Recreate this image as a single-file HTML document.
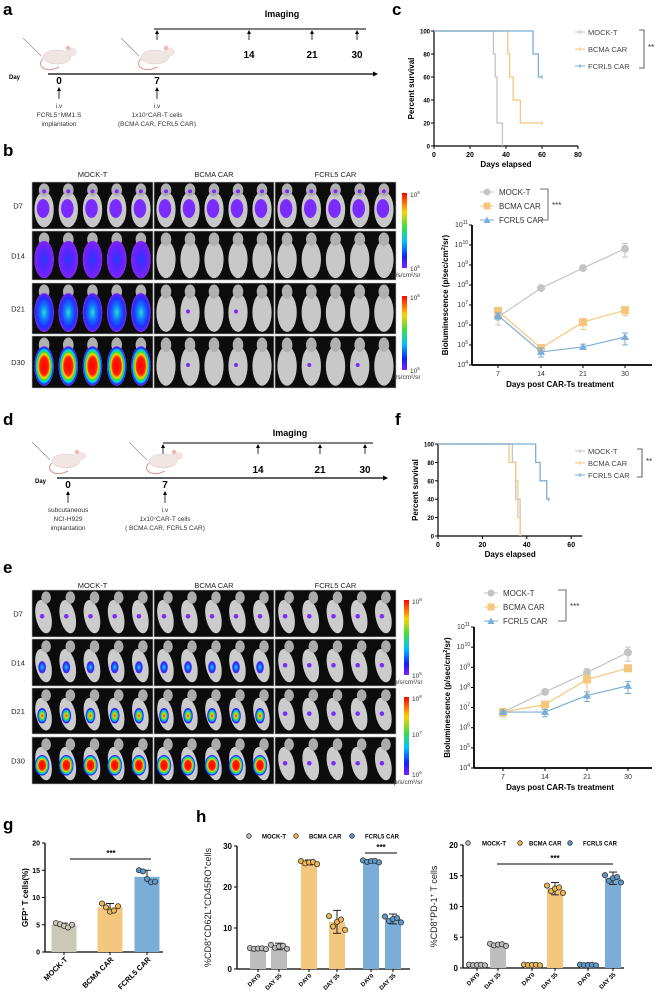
<!DOCTYPE html>
<html><head><meta charset="utf-8"><style>
html,body{margin:0;padding:0;background:#fff;}
svg{display:block;font-family:"Liberation Sans",Arial,sans-serif;}
.lbl{font-weight:bold;font-size:17px;}
</style></head><body>
<svg id="fig" width="660" height="999" viewBox="0 0 660 999" xmlns="http://www.w3.org/2000/svg">
<defs>
<radialGradient id="hot"><stop offset="0" stop-color="#ff0000"/><stop offset="0.45" stop-color="#ff2000"/><stop offset="0.6" stop-color="#ffd000"/><stop offset="0.72" stop-color="#30e030"/><stop offset="0.82" stop-color="#00d0ff"/><stop offset="0.92" stop-color="#1030ff"/><stop offset="1" stop-color="#8020ff"/></radialGradient>
<radialGradient id="cool"><stop offset="0" stop-color="#30e0c0"/><stop offset="0.35" stop-color="#1080ff"/><stop offset="0.75" stop-color="#2030ff"/><stop offset="1" stop-color="#7020ff"/></radialGradient>
<radialGradient id="purpbody"><stop offset="0" stop-color="#2040ff"/><stop offset="0.4" stop-color="#5028ff"/><stop offset="1" stop-color="#8020ff"/></radialGradient>
<radialGradient id="ring"><stop offset="0" stop-color="#ff1000"/><stop offset="0.3" stop-color="#ffd000"/><stop offset="0.5" stop-color="#30e030"/><stop offset="0.7" stop-color="#00c0ff"/><stop offset="0.85" stop-color="#1020ff"/><stop offset="1" stop-color="#7020ff"/></radialGradient>
<linearGradient id="cbar" x1="0" y1="0" x2="0" y2="1"><stop offset="0" stop-color="#ff0000"/><stop offset="0.25" stop-color="#ffd000"/><stop offset="0.45" stop-color="#40e040"/><stop offset="0.65" stop-color="#00c0ff"/><stop offset="0.85" stop-color="#1020ff"/><stop offset="1" stop-color="#8020ff"/></linearGradient>
</defs>
<g id="static">
<text class="lbl" x="3" y="15">a</text>
<text class="lbl" x="392" y="15">c</text>
<text class="lbl" x="3" y="156">b</text>
<text class="lbl" x="3" y="425">d</text>
<text class="lbl" x="395" y="425">f</text>
<text class="lbl" x="3" y="573">e</text>
<text class="lbl" x="3" y="830">g</text>
<text class="lbl" x="196" y="822">h</text>
</g>
<g id="root"></g>
</svg>
<script>
// ---------- chart data ----------
const groups = ["MOCK-T","BCMA CAR","FCRL5 CAR"];
const colors = ["#c4c4c4","#f5c77e","#7aaed8"];
const imgDays = ["7","14","21","30"];
const survC_mock_d = [0,33,34,35,38];  const survC_mock_p = [100,80,60,20,0];
const survC_bcma_d = [0,41,42,44,48,60]; const survC_bcma_p = [100,80,60,40,20,20];
const survC_fcrl_d = [0,55,58,60]; const survC_fcrl_p = [100,80,60,60];
const survF_mock_d = [0,33.5,35,37]; const survF_mock_p = [100,80,40,0];
const survF_bcma_d = [0,32,35,36,37]; const survF_bcma_p = [100,80,60,20,0];
const survF_fcrl_d = [0,44,46,49,50]; const survF_fcrl_p = [100,80,60,40,40];
const bioB_mock = [2.5e6,7e7,7e8,6.5e9]; const bioB_mock_lo=[1e6,6e7,6e8,2.5e9]; const bioB_mock_hi=[4e6,8e7,8e8,1.2e10];
const bioB_bcma = [5e6,7e4,1.4e6,5.5e6]; const bioB_bcma_lo=[3.5e6,4e4,6e5,3e6]; const bioB_bcma_hi=[6e6,1e5,2e6,8e6];
const bioB_fcrl = [3e6,4.5e4,8e4,2.5e5]; const bioB_fcrl_lo=[2e6,2.5e4,6e4,1e5]; const bioB_fcrl_hi=[4e6,7e4,1.1e5,4e5];
const bioE_mock = [6e6,6e7,5.5e8,5.5e9]; const bioE_mock_lo=[3.5e6,5e7,3.5e8,2e9]; const bioE_mock_hi=[8e6,7e7,8.5e8,1e10];
const bioE_bcma = [6e6,1.4e7,2.5e8,9e8]; const bioE_bcma_lo=[5e6,1e7,4e7,6e8]; const bioE_bcma_hi=[7e6,1.8e7,4e8,1.2e9];
const bioE_fcrl = [6e6,6e6,4e7,1.2e8]; const bioE_fcrl_lo=[5e6,3.5e6,2e7,5e7]; const bioE_fcrl_hi=[7e6,8e6,6e7,2e8];
const logTicks = [4,5,6,7,8,9,10,11];
const gfpVals = [5.0,8.2,13.8];
const gfpPts = [[5.3,5.1,4.8,4.5,5.0],[8.9,8.2,7.4,7.6,8.4],[15.0,14.8,13.4,12.8,12.9]];
const gTicks = [0,5,10,15,20];
const hCats = ["DAY0","DAY 35","DAY0","DAY 35","DAY0","DAY 35"];
const hMemVals = [5,5.5,26,11.5,26.3,12.2];
const hMemErr = [0.2,0.8,0.6,2.8,0.4,1.2];
const hTicksL = [0,10,20,30];
const hPdOrder = [0.5,3.8,0.5,12.9,0.5,14.6];
const hPdErr = [0.1,0.3,0.1,1.0,0.1,1.0];
const hTicksR = [0,5,10,15,20];

const NS="http://www.w3.org/2000/svg";
const root=document.getElementById('root');
function mk(tag,attrs,parent,txt){const e=document.createElementNS(NS,tag);for(const k in attrs)e.setAttribute(k,attrs[k]);if(txt!==undefined)e.textContent=txt;(parent||root).appendChild(e);return e;}
function grp(name){const g=mk('g',{});

return g;}

// ---------- timelines ----------
function timeline(name,p,texts0,texts7){
  const g=grp(name);
  let e=mk('text',{x:p.imgX,y:p.imgY,'text-anchor':'middle','font-size':'9','font-weight':'bold'},g,'Imaging');
  
  mk('line',{x1:p.l1,x2:p.l2,y1:p.lineY,y2:p.lineY,stroke:'#000','stroke-width':1},g);
  p.arrows.forEach((x,i)=>{mk('line',{x1:x,x2:x,y1:p.lineY+11,y2:p.lineY+3,stroke:'#000','stroke-width':0.8},g);
    mk('path',{d:`M${x-2},${p.lineY+5} L${x},${p.lineY+1} L${x+2},${p.lineY+5}Z`,fill:'#000'},g);
    if(i>0){e=mk('text',{x:x,y:p.numY,'text-anchor':'middle','font-size':'10','font-weight':'bold'},g,imgDays[i]);}});
  mk('line',{x1:p.a1,x2:p.a2-4,y1:p.axY,y2:p.axY,stroke:'#000','stroke-width':1.3},g);
  mk('path',{d:`M${p.a2-5},${p.axY-2.5} L${p.a2},${p.axY} L${p.a2-5},${p.axY+2.5}Z`,fill:'#000'},g);
  mk('text',{x:p.dayX,y:p.axY+5,'font-size':'6','font-weight':'bold'},g,'Day');
  [[p.x0,'0',texts0],[p.x7,'7',texts7]].forEach(([x,l,tx])=>{
    mk('text',{x:x,y:p.axY+10,'text-anchor':'middle','font-size':'10','font-weight':'bold'},g,l);
    mk('line',{x1:x,x2:x,y1:p.axY+25,y2:p.axY+15,stroke:'#000','stroke-width':0.8},g);
    mk('path',{d:`M${x-2},${p.axY+17} L${x},${p.axY+13} L${x+2},${p.axY+17}Z`,fill:'#000'},g);
    tx.forEach((t,j)=>mk('text',{x:x,y:p.axY+34+j*9,'text-anchor':'middle','font-size':'6.5',fill:'#333'},g,t));
    const mx=x-8, my=p.axY-22;
    mk('line',{x1:mx-28,y1:my-14,x2:mx-10,y2:my+4,stroke:'#999','stroke-width':0.8},g);
    mk('ellipse',{cx:mx+6,cy:my+5,rx:14,ry:7,fill:'#efe6e3',stroke:'#d8c9c5','stroke-width':0.5},g);
    mk('ellipse',{cx:mx+20,cy:my,rx:6,ry:4.5,fill:'#efe6e3'},g);
    mk('circle',{cx:mx+17,cy:my-4,r:2.2,fill:'#f1b7b0'},g);
    mk('path',{d:`M${mx-8},${my+7} q-6,6 2,10 q6,2 14,-2`,fill:'none',stroke:'#e0938a','stroke-width':1},g);
  });
}
timeline('timeline-a',{imgX:282,imgY:17,l1:154,l2:366,lineY:29,arrows:[157,249,312,357],numY:58,a1:48,a2:378,axY:74,dayX:9,x0:59,x7:157},
  ['i.v','FCRL5⁺MM1.S','implantation'],['i.v','1x10⁷CAR-T cells','(BCMA CAR, FCRL5 CAR)']);
timeline('timeline-d',{imgX:290,imgY:436,l1:163,l2:373,lineY:443,arrows:[163,258,320,365],numY:473,a1:57,a2:388,axY:478,dayX:35,x0:68,x7:165},
  ['subcutaneous','NCI-H929','implantation'],['i.v','1x10⁷CAR-T cells','( BCMA CAR, FCRL5 CAR)']);

// ---------- survival ----------
function survival(name,o,series){
  const g=grp(name);
  const X=d=>o.x0+d*o.kx, Y=p=>o.y0-p*o.ky;
  mk('line',{x1:X(0),x2:X(o.xmax),y1:Y(0),y2:Y(0),stroke:'#000','stroke-width':1.2},g);
  mk('line',{x1:X(0),x2:X(0),y1:Y(0),y2:Y(100),stroke:'#000','stroke-width':1.2},g);
  o.xt.forEach(t=>{mk('line',{x1:X(t),x2:X(t),y1:Y(0),y2:Y(0)+3,stroke:'#000'},g);
    let e=mk('text',{x:X(t),y:Y(0)+11,'text-anchor':'middle','font-size':'7','font-weight':'bold'},g,t);});
  [0,20,40,60,80,100].forEach(t=>{mk('line',{x1:X(0)-3,x2:X(0),y1:Y(t),y2:Y(t),stroke:'#000'},g);
    let e=mk('text',{x:X(0)-4,y:Y(t)+2.5,'text-anchor':'end','font-size':'6','font-weight':'bold'},g,t);});
  let e=mk('text',{x:X(o.xmax/2),y:Y(0)+21,'text-anchor':'middle','font-size':'8','font-weight':'bold'},g,'Days elapsed');
  e=mk('text',{transform:`translate(${X(0)-20},${Y(50)}) rotate(-90)`,'text-anchor':'middle','font-size':'8','font-weight':'bold'},g,'Percent survival');
  series.forEach(([ds,ps],si)=>{
    let d=`M${X(ds[0])},${Y(ps[0])}`;
    for(let i=1;i<ds.length;i++){d+=` H${X(ds[i])} V${Y(ps[i])}`;}
    const pth=mk('path',{d:d,fill:'none',stroke:colors[si],'stroke-width':1.3},g);
    
    const last=ds.length-1;
    if(ps[last]>0)mk('line',{x1:X(ds[last]),x2:X(ds[last]),y1:Y(ps[last])-2,y2:Y(ps[last])+2,stroke:colors[si]},g);
  });
  groups.forEach((gn,i)=>{const y=o.legY+i*o.legDy;
    mk('line',{x1:o.legX,x2:o.legX+10,y1:y,y2:y,stroke:colors[i],'stroke-width':1},g);
    mk('line',{x1:o.legX+5,x2:o.legX+5,y1:y-2,y2:y+2,stroke:colors[i],'stroke-width':1},g);
    let t=mk('text',{x:o.legX+13,y:y+3,'font-size':'7.5',fill:'#444'},g,gn);});
  mk('path',{d:`M${o.brX-5},${o.legY-2} H${o.brX} V${o.legY+2*o.legDy+2} H${o.brX-5}`,fill:'none',stroke:'#333','stroke-width':0.8},g);
  mk('text',{x:o.brX+4,y:o.legY+o.legDy+1,'font-size':'8',fill:'#333'},g,'**');
}
survival('survival-chart-c',{x0:434,kx:1.8,y0:146,ky:1.15,xmax:80,xt:[0,20,40,60,80],legX:575,legY:32,legDy:17,brX:644},
  [[survC_mock_d,survC_mock_p],[survC_bcma_d,survC_bcma_p],[survC_fcrl_d,survC_fcrl_p]]);
survival('survival-chart-f',{x0:438,kx:2.22,y0:536,ky:0.92,xmax:65,xt:[0,20,40,60],legX:575,legY:451,legDy:12,brX:642},
  [[survF_mock_d,survF_mock_p],[survF_bcma_d,survF_bcma_p],[survF_fcrl_d,survF_fcrl_p]]);

// ---------- bioluminescence ----------
function bio(name,o,ser){
  const g=grp(name);
  const Y=v=>o.y4-(Math.log10(v)-4)*o.dec, X=i=>o.xs[i];
  mk('line',{x1:o.ax,x2:o.ax,y1:Y(1e11),y2:Y(1e4),stroke:'#000','stroke-width':1.8},g);
  mk('line',{x1:o.ax,x2:o.xend,y1:Y(1e4),y2:Y(1e4),stroke:'#000','stroke-width':1.8},g);
  logTicks.forEach(t=>{const y=Y(Math.pow(10,t));mk('line',{x1:o.ax-3,x2:o.ax,y1:y,y2:y,stroke:'#000'},g);
    const tx=mk('text',{x:o.ax-4,y:y+2,'text-anchor':'end','font-size':'7',fill:'#333'},g);
    mk('tspan',{},tx,'10');mk('tspan',{dy:-3,'font-size':'5'},tx,String(t));});
  imgDays.forEach((d,i)=>{mk('line',{x1:X(i),x2:X(i),y1:Y(1e4),y2:Y(1e4)+3,stroke:'#000'},g);
    let e=mk('text',{x:X(i),y:Y(1e4)+11,'text-anchor':'middle','font-size':'7',fill:'#333'},g,d);});
  let e=mk('text',{x:560,y:Y(1e4)+22,'text-anchor':'middle','font-size':'8','font-weight':'bold'},g,'Days post CAR-Ts treatment');
  e=mk('text',{transform:`translate(${o.ax-24},${(Y(1e11)+Y(1e4))/2}) rotate(-90)`,'text-anchor':'middle','font-size':'8','font-weight':'bold'},g);
  
  mk('tspan',{},e,'Bioluminescence (p/sec/cm');mk('tspan',{dy:-3,'font-size':'5.5'},e,'2');mk('tspan',{dy:3},e,'/sr)');
  ser.forEach(([v,lo,hi],si)=>{
    const c=colors[si];
    mk('polyline',{points:v.map((x,i)=>X(i)+','+Y(x)).join(' '),fill:'none',stroke:c,'stroke-width':1.2},g);
    v.forEach((x,i)=>{mk('line',{x1:X(i),x2:X(i),y1:Y(lo[i]),y2:Y(hi[i]),stroke:c},g);
      [lo[i],hi[i]].forEach(q=>mk('line',{x1:X(i)-3,x2:X(i)+3,y1:Y(q),y2:Y(q),stroke:c},g));
      let m;
      if(si==0)m=mk('circle',{cx:X(i),cy:Y(x),r:4,fill:c},g);
      else if(si==1)m=mk('rect',{x:X(i)-4,y:Y(x)-4,width:8,height:8,fill:c},g);
      else m=mk('path',{d:`M${X(i)},${Y(x)-4} L${X(i)+4},${Y(x)+3} L${X(i)-4},${Y(x)+3}Z`,fill:c},g);
      });
  });
  groups.forEach((gn,i)=>{const y=o.legY+i*o.legDy, x=o.legX;const c=colors[i];
    mk('line',{x1:x-7,x2:x+7,y1:y,y2:y,stroke:c},g);
    if(i==0)mk('circle',{cx:x,cy:y,r:3.5,fill:c},g);else if(i==1)mk('rect',{x:x-3.5,y:y-3.5,width:7,height:7,fill:c},g);
    else mk('path',{d:`M${x},${y-3.5} L${x+3.5},${y+3} L${x-3.5},${y+3}Z`,fill:c},g);
    let t=mk('text',{x:x+12,y:y+3,'font-size':'8',fill:'#333'},g,gn);});
  mk('path',{d:`M${o.brX-8},${o.legY-3} H${o.brX} V${o.legY+2*o.legDy} H${o.brX-8}`,fill:'none',stroke:'#444','stroke-width':0.8},g);
  mk('text',{x:o.brX+4,y:o.legY+o.legDy+2,'font-size':'8',fill:'#333'},g,'***');
}
bio('bioluminescence-chart-b',{ax:472,xend:652,y4:365,dec:20,xs:[498,541,583,625],legX:487,legY:192,legDy:14,brX:548},
  [[bioB_mock,bioB_mock_lo,bioB_mock_hi],[bioB_bcma,bioB_bcma_lo,bioB_bcma_hi],[bioB_fcrl,bioB_fcrl_lo,bioB_fcrl_hi]]);
bio('bioluminescence-chart-e',{ax:474,xend:652,y4:768,dec:20.14,xs:[503,545,587,628],legX:491,legY:593,legDy:14,brX:566},
  [[bioE_mock,bioE_mock_lo,bioE_mock_hi],[bioE_bcma,bioE_bcma_lo,bioE_bcma_hi],[bioE_fcrl,bioE_fcrl_lo,bioE_fcrl_hi]]);

// ---------- imaging panels ----------
const cols=[[32,153],[154,274],[275,396]];
const sigB=[[2,2,2],[2.5,0,0],[3.5,1,0],[4,1,1]];
const sigE=[[1,1,1],[2,2,1],[3,3,1],[4,4,1]];
function panels(name,rows,sig,side,headY){
  const g=grp(name);
  groups.forEach((gn,c)=>{let e=mk('text',{x:(cols[c][0]+cols[c][1])/2,y:headY,'text-anchor':'middle','font-size':'7.5',fill:'#222'},g,gn);});
  rows.forEach(([y1,y2],r)=>{
    let e=mk('text',{x:18,y:(y1+y2)/2+3,'text-anchor':'middle','font-size':'7.5',fill:'#222'},g,'D'+imgDays[r]);
    cols.forEach(([x1,x2],c)=>{
      const cell=mk('g',{},g);
      
      
      mk('rect',{x:x1,y:y1,width:x2-x1,height:y2-y1,fill:'#0c0c0c',stroke:'#bbb','stroke-width':0.6},cell);
      const h=y2-y1, w=(x2-x1)/5;
      for(let m=0;m<5;m++){
        const cx=x1+w*(m+0.5), cy=y1+h/2+1;
        if(!side){
          mk('ellipse',{cx:cx,cy:cy+3,rx:w*0.4,ry:h*0.38,fill:'#c8c8c8'},cell);
          mk('ellipse',{cx:cx,cy:y1+h*0.17,rx:w*0.22,ry:h*0.14,fill:'#b0b0b0'},cell);
        }else{
          mk('ellipse',{cx:cx-1,cy:cy+2,rx:w*0.32,ry:h*0.36,fill:'#cccccc',transform:`rotate(-12 ${cx} ${cy})`},cell);
          mk('ellipse',{cx:cx+2,cy:y1+h*0.16,rx:w*0.2,ry:h*0.13,fill:'#ababab'},cell);
        }
        const s=sig[r][c];
        if(!side){
          if(s>=3){mk('ellipse',{cx:cx,cy:cy+3,rx:w*0.4,ry:h*0.38,fill:s>=4?'url(#hot)':'url(#cool)'},cell);}
          else if(s>=2.5){mk('ellipse',{cx:cx,cy:cy+3,rx:w*0.4,ry:h*0.38,fill:'url(#purpbody)'},cell);}
          else if(s>=2){mk('ellipse',{cx:cx-1,cy:cy+2,rx:w*0.26,ry:h*0.2,fill:'#7a2cff'},cell);mk('circle',{cx:cx,cy:y1+h*0.2,r:2,fill:'#7a2cff'},cell);}
          else if(s>=1&&m%2==1){mk('circle',{cx:cx-2,cy:cy+2,r:2,fill:'#7a2cff'},cell);}
        }else{
          const bx=cx-2, by=cy+h*0.08;
          if(s>=4)mk('ellipse',{cx:bx,cy:by,rx:w*0.3,ry:h*0.22,fill:'url(#hot)'},cell);
          else if(s>=3)mk('ellipse',{cx:bx,cy:by,rx:w*0.2,ry:h*0.17,fill:'url(#ring)'},cell);
          else if(s>=2)mk('ellipse',{cx:bx,cy:by,rx:w*0.16,ry:h*0.13,fill:'url(#cool)'},cell);
          else if(s>=1)mk('circle',{cx:bx,cy:by-2,r:2.3,fill:'#7a2cff'},cell);
        }
      }
    });
  });
}
panels('imaging-panel-b',[[182,229],[231,280],[283,334],[336,388]],sigB,false,177);
panels('imaging-panel-e',[[590,637],[639,686],[688,734],[737,784]],sigE,true,588);
function cbar(name,x,y1,y2,labels){
  const g=grp(name);
  mk('rect',{x:x,y:y1,width:5,height:y2-y1,fill:'url(#cbar)'},g);
  labels.forEach(([t,y])=>{const tx=mk('text',{x:x+8,y:y,'font-size':'6.5',fill:'#333'},g);mk('tspan',{},tx,'10');mk('tspan',{dy:-3,'font-size':'4.5'},tx,t);});
  mk('text',{x:x-10,y:y2+9,'font-size':'6.5',fill:'#333'},g,'p/s/cm²/sr');
}
cbar('colorbar-b1',402,193,268,[['8',197],['5',271]]);
cbar('colorbar-b2',402,296,370,[['8',300],['5',373]]);
cbar('colorbar-e1',404,600,675,[['8',604],['5',678]]);
cbar('colorbar-e2',404,697,775,[['8',701],['7',737],['6',777]]);

// ---------- bar charts ----------
function dots(g,cx,base,vals,Y,fill){vals.forEach((v,k)=>mk('circle',{cx:cx-8+k*4,cy:Y(v),r:2.6,fill:fill,stroke:'#333','stroke-width':0.8},g));}
(function(){
  const g=grp('gfp-bar-chart');
  const Y=v=>952-v*5.45, xs=[64,110,147], bw=25;
  const bc=['#cbc8b8','#f5c77e','#7aaed8'], dc=['#cbc8b8','#f0b84c','#5b99cc'];
  mk('line',{x1:45,x2:45,y1:Y(20),y2:Y(0),stroke:'#000','stroke-width':1.3},g);
  mk('line',{x1:45,x2:163,y1:Y(0),y2:Y(0),stroke:'#000','stroke-width':1.3},g);
  gTicks.forEach(t=>{mk('line',{x1:42,x2:45,y1:Y(t),y2:Y(t),stroke:'#000'},g);let e=mk('text',{x:40,y:Y(t)+2.5,'text-anchor':'end','font-size':'7','font-weight':'bold'},g,t);});
  gfpVals.forEach((v,i)=>{const b=mk('rect',{x:xs[i]-bw/2,y:Y(v),width:bw,height:Y(0)-Y(v),fill:bc[i]},g);
    
    const mx=Math.max(...gfpPts[i]),mn=Math.min(...gfpPts[i]);
    mk('line',{x1:xs[i],x2:xs[i],y1:Y(mn),y2:Y(mx),stroke:'#222'},g);
    mk('line',{x1:xs[i]-4,x2:xs[i]+4,y1:Y(mx),y2:Y(mx),stroke:'#222'},g);
    dots(g,xs[i],0,gfpPts[i],Y,dc[i]);
    mk('line',{x1:xs[i],x2:xs[i],y1:Y(0),y2:Y(0)+3,stroke:'#000'},g);
    let e=mk('text',{transform:`translate(${xs[i]+4},${Y(0)+8}) rotate(-45)`,'text-anchor':'end','font-size':'7.5','font-weight':'bold'},g,groups[i]);});
  mk('line',{x1:70,x2:151,y1:859,y2:859,stroke:'#000','stroke-width':1},g);
  mk('text',{x:111,y:856,'text-anchor':'middle','font-size':'8','font-weight':'bold'},g,'***');
  let e=mk('text',{transform:`translate(28,${Y(10)}) rotate(-90)`,'text-anchor':'middle','font-size':'8','font-weight':'bold'},g);
  
  mk('tspan',{},e,'GFP');mk('tspan',{dy:-3,'font-size':'5'},e,'+');mk('tspan',{dy:3},e,' T cells(%)');
})();
function hchart(name,o,vals,errs,ticks,title){
  const g=grp(name);
  const Y=v=>o.y0-v*o.k;
  const bc=['#bdbdbd','#bdbdbd','#f5c77e','#f5c77e','#7aaed8','#7aaed8'], dc=['#bdbdbd','#bdbdbd','#f0b84c','#f0b84c','#5b99cc','#5b99cc'];
  mk('line',{x1:o.ax,x2:o.ax,y1:Y(ticks[ticks.length-1]),y2:Y(0),stroke:'#000','stroke-width':1.3},g);
  mk('line',{x1:o.ax,x2:o.xend,y1:Y(0),y2:Y(0),stroke:'#000','stroke-width':1.3},g);
  ticks.forEach(t=>{mk('line',{x1:o.ax-3,x2:o.ax,y1:Y(t),y2:Y(t),stroke:'#000'},g);let e=mk('text',{x:o.ax-5,y:Y(t)+3,'text-anchor':'end','font-size':'8','font-weight':'bold'},g,t);});
  vals.forEach((v,i)=>{const x=o.xs[i];
    const b=mk('rect',{x:x-8,y:Y(v),width:16,height:Y(0)-Y(v),fill:bc[i]},g);
    
    if(errs[i]>0.3){mk('line',{x1:x,x2:x,y1:Y(v-errs[i]),y2:Y(v+errs[i]),stroke:'#222'},g);
      [v-errs[i],v+errs[i]].forEach(q=>mk('line',{x1:x-4,x2:x+4,y1:Y(q),y2:Y(q),stroke:'#222'},g));}
    dots(g,x,0,[v+errs[i]*0.5,v-errs[i]*0.4,v,v+errs[i]*0.2,v-errs[i]*0.7],Y,dc[i]);
    mk('line',{x1:x,x2:x,y1:Y(0),y2:Y(0)+3,stroke:'#000'},g);
    let e=mk('text',{transform:`translate(${x+3},${Y(0)+7}) rotate(-45)`,'text-anchor':'end','font-size':'6','font-weight':'bold'},g,hCats[i]);});
  groups.forEach((gn,i)=>{mk('circle',{cx:o.legC[i],cy:o.legY,r:2.3,fill:['#bdbdbd','#f0b84c','#5b99cc'][i],stroke:'#333','stroke-width':0.8},g);
    let t=mk('text',{x:o.legT[i],y:o.legY+2.5,'font-size':'6','font-weight':'bold'},g,gn);});
  mk('line',{x1:o.s1,x2:o.s2,y1:o.sy,y2:o.sy,stroke:'#000','stroke-width':1},g);
  mk('text',{x:(o.s1+o.s2)/2,y:o.sy-3,'text-anchor':'middle','font-size':'8','font-weight':'bold'},g,'***');
  let e=mk('text',{transform:`translate(${o.ax-26},${Y(ticks[ticks.length-1]/2)}) rotate(-90)`,'text-anchor':'middle','font-size':'9',fill:'#222'},g);
  
  title.forEach(([t,sup])=>{if(sup)mk('tspan',{dy:-3,'font-size':'6'},e,t);else mk('tspan',{dy:e.childNodes.length&&e.lastChild.getAttribute('dy')==='-3'?3:0},e,t);});
}
hchart('memory-bar-chart',{ax:237,xend:410,y0:969,k:4.1,xs:[258,279,309,337,371,393],legY:836,legC:[249,296,352],legT:[262,309,365],s1:365,s2:397,sy:853},
  hMemVals,hMemErr,hTicksL,[['%CD8',0],['+',1],['CD62L',0],['+',1],['CD45RO',0],['+',1],['cells',0]]);
hchart('pd1-bar-chart',{ax:463,xend:624,y0:968,k:6.15,xs:[477,498,532,555,588,613],legY:843,legC:[468,520,570],legT:[482,529,583],s1:497,s2:613,sy:864},
  hPdOrder,hPdErr,hTicksR,[['%CD8',0],['+',1],['PD-1',0],['+',1],[' T cells',0]]);
</script>
</body></html>
